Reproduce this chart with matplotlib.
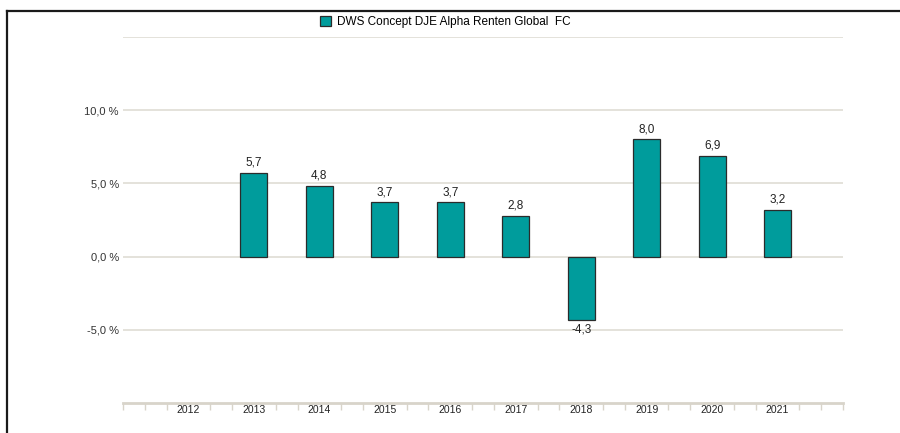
import numpy as np
import matplotlib.pyplot as plt
from matplotlib.lines import Line2D

plt.rcParams['font.family'] = ['Liberation Sans', 'DejaVu Sans']

# Daten
jahre = ["2012", "2013", "2014", "2015", "2016", "2017", "2018", "2019", "2020", "2021"]
rendite = [np.nan, 5.7, 4.8, 3.7, 3.7, 2.8, -4.3, 8.0, 6.9, 3.2]
fonds = "DWS Concept DJE Alpha Renten Global  FC"

teal = "#009c9c"
grid_col = "#e2dfd8"

fig = plt.figure(figsize=(9, 4.33), dpi=100)
ax = fig.add_axes([123 / 900, 30 / 433, 720 / 900, 366 / 433])

x = np.arange(len(jahre))
bars = ax.bar(x, rendite, width=0.41, color=teal, edgecolor="#2b2b2b",
              linewidth=0.9, zorder=3, label=fonds)

# Werte an den Balken
for xi, v in zip(x, rendite):
    if np.isnan(v):
        continue
    txt = f"{v:.1f}".replace(".", ",")
    if v >= 0:
        ax.text(xi, v + 0.3, txt, ha="center", va="bottom", fontsize=8.5, color="#222222")
    else:
        ax.text(xi, v - 0.3, txt, ha="center", va="top", fontsize=8.5, color="#222222")

ax.set_xlim(-1, len(jahre))
ax.set_ylim(-10, 15)

# y-Achse
yt = [-5, 0, 5, 10, 15]
ax.set_yticks(yt)
ax.set_yticklabels([f"{t:.1f} %".replace(".", ",") if t < 15 else "" for t in yt])
ax.tick_params(axis="y", length=0, pad=3, labelsize=8, labelcolor="#333333")
ax.grid(axis="y", color=grid_col, linewidth=1.3, zorder=0)

# x-Achse
ax.set_xticks(x)
ax.set_xticklabels(jahre)
ax.tick_params(axis="x", length=0, pad=1.5, labelsize=7.5, labelcolor="#222222")
minor = [k / 3 for k in range(-3, 3 * len(jahre) + 1) if k % 3 != 0 or k < 0 or k >= 3 * len(jahre)]
ax.set_xticks(minor, minor=True)
ax.tick_params(axis="x", which="minor", length=5, width=1, color="#d8d4ca", direction="out")

for s in ["top", "right", "left"]:
    ax.spines[s].set_visible(False)
ax.spines["bottom"].set_color("#d8d4ca")
ax.spines["bottom"].set_linewidth(2)

# Legende
fig.legend(handles=[bars], loc="center", bbox_to_anchor=(0.495, 0.949), frameon=False,
           fontsize=8.5, handlelength=0.9, handleheight=0.9, handletextpad=0.5)

# Rahmen
fig.add_artist(Line2D([7 / 900, 1], [1 - 11 / 433, 1 - 11 / 433], color="#1a1a1a", linewidth=1.6,
                      transform=fig.transFigure))
fig.add_artist(Line2D([7 / 900, 7 / 900], [0, 1 - 11 / 433], color="#1a1a1a", linewidth=1.6,
                      transform=fig.transFigure))

fig.savefig("out.png", dpi=100)
